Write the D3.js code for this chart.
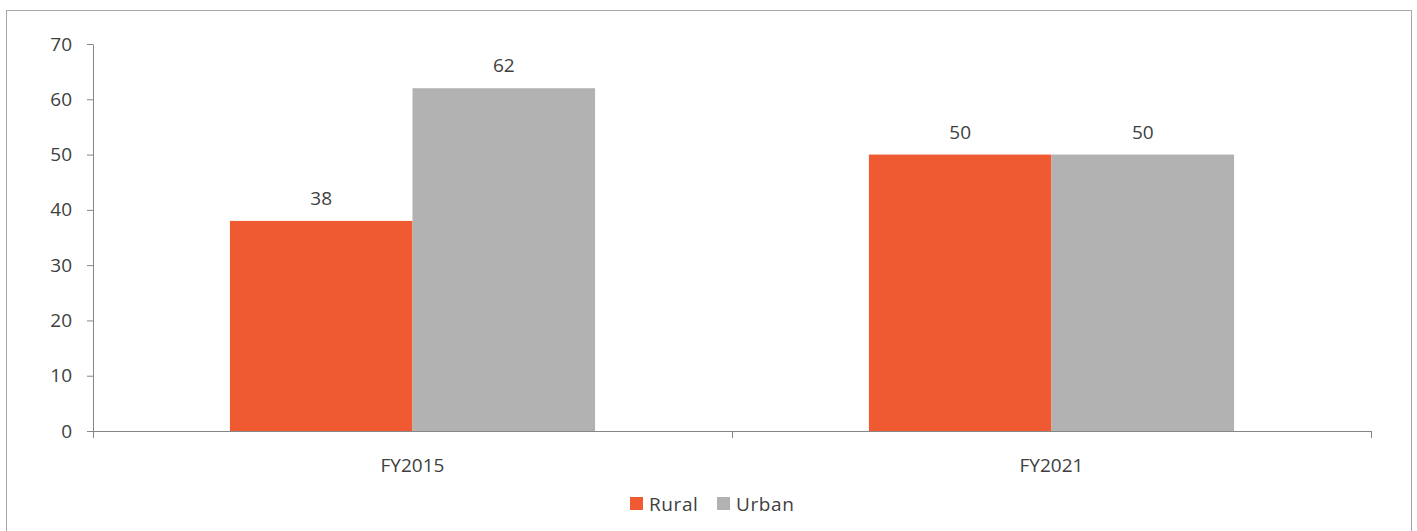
<!DOCTYPE html>
<html>
<head>
<meta charset="utf-8">
<script src="https://cdn.jsdelivr.net/npm/d3@7"></script>
<style>
  html, body { margin: 0; padding: 0; background: #ffffff; }
  svg { display: block; }
  text { font-family: "Open Sans", "Noto Sans", sans-serif; fill: #404040; }
</style>
</head>
<body>
<svg id="chart" width="1417" height="531"></svg>
<script>
// Chart data
const categories = ["FY2015", "FY2021"];
const seriesNames = ["Rural", "Urban"];
const rural = [38, 50];
const urban = [62, 50];
const yTicks = [0, 10, 20, 30, 40, 50, 60, 70];
const colors = ["#F05A33", "#B2B2B2"];

const seriesValues = [rural, urban];
const FONT = 19;

const svg = d3.select("#chart");

// Outer frame around the chart area
svg.append("rect")
  .attr("x", 6.5).attr("y", 10.5)
  .attr("width", 1405).attr("height", 540)
  .attr("fill", "#ffffff")
  .attr("stroke", "#a6a6a6")
  .attr("stroke-width", 1);

const plot = { left: 93, right: 1371, top: 44, bottom: 431 };

const x0 = d3.scaleBand()
  .domain(categories)
  .range([plot.left, plot.right])
  .paddingInner(0).paddingOuter(0);

const x1 = d3.scaleBand()
  .domain(seriesNames)
  .range([0, x0.bandwidth()])
  .paddingInner(0).paddingOuter(0.75);

const y = d3.scaleLinear()
  .domain([0, 70])
  .range([plot.bottom, plot.top]);

// Bars
const groups = svg.append("g").selectAll("g")
  .data(categories)
  .join("g")
  .attr("transform", d => `translate(${x0(d)},0)`);

const cellData = (c, i) => seriesNames.map((s, j) => ({ s, j, v: seriesValues[j][i] }));

groups.selectAll("rect")
  .data(cellData)
  .join("rect")
  .attr("x", d => x1(d.s))
  .attr("y", d => y(d.v))
  .attr("width", x1.bandwidth())
  .attr("height", d => y(0) - y(d.v))
  .attr("fill", d => colors[d.j]);

// Value labels
groups.selectAll("text.val")
  .data(cellData)
  .join("text")
  .attr("class", "val")
  .attr("x", d => x1(d.s) + x1.bandwidth() / 2)
  .attr("y", d => y(d.v) - 16)
  .attr("text-anchor", "middle")
  .attr("font-size", FONT)
  .text(d => d.v);

// Y axis
const yAxis = svg.append("g")
  .attr("transform", `translate(${plot.left},0)`)
  .call(d3.axisLeft(y).tickValues(yTicks).tickSize(6).tickSizeOuter(0).tickPadding(15));
yAxis.select(".domain").attr("stroke", "#868686");
yAxis.selectAll(".tick line").attr("stroke", "#868686");
yAxis.selectAll(".tick text")
  .attr("font-size", FONT)
  .attr("fill", "#404040")
  .style("font-family", "'Open Sans', 'Noto Sans', sans-serif");

// X axis: ticks at the category boundaries
const xAxis = svg.append("g")
  .attr("transform", `translate(0,${plot.bottom})`);
const boundaries = categories.map(c => x0(c)).concat([x0(categories[categories.length - 1]) + x0.bandwidth()]);
xAxis.append("line")
  .attr("x1", plot.left).attr("x2", plot.right)
  .attr("y1", 0.5).attr("y2", 0.5)
  .attr("stroke", "#868686");
xAxis.selectAll("line.tick")
  .data(boundaries)
  .join("line")
  .attr("class", "tick")
  .attr("x1", d => Math.round(d) + 0.5).attr("x2", d => Math.round(d) + 0.5)
  .attr("y1", 0).attr("y2", 7)
  .attr("stroke", "#868686");
xAxis.selectAll("text")
  .data(categories)
  .join("text")
  .attr("x", d => x0(d) + x0.bandwidth() / 2)
  .attr("y", 40.5)
  .attr("text-anchor", "middle")
  .attr("font-size", FONT)
  .text(d => d);

// Legend
const legend = svg.append("g").attr("transform", "translate(630,497)");
const legendItems = [{ name: seriesNames[0], x: 0 }, { name: seriesNames[1], x: 87 }];
legendItems.forEach((d, i) => {
  legend.append("rect")
    .attr("x", d.x).attr("y", 0)
    .attr("width", 13).attr("height", 13)
    .attr("fill", colors[i]);
  legend.append("text")
    .attr("x", d.x + 19).attr("y", 13.5)
    .attr("font-size", FONT)
    .attr("letter-spacing", 0.6)
    .text(d.name);
});
</script>
</body>
</html>
